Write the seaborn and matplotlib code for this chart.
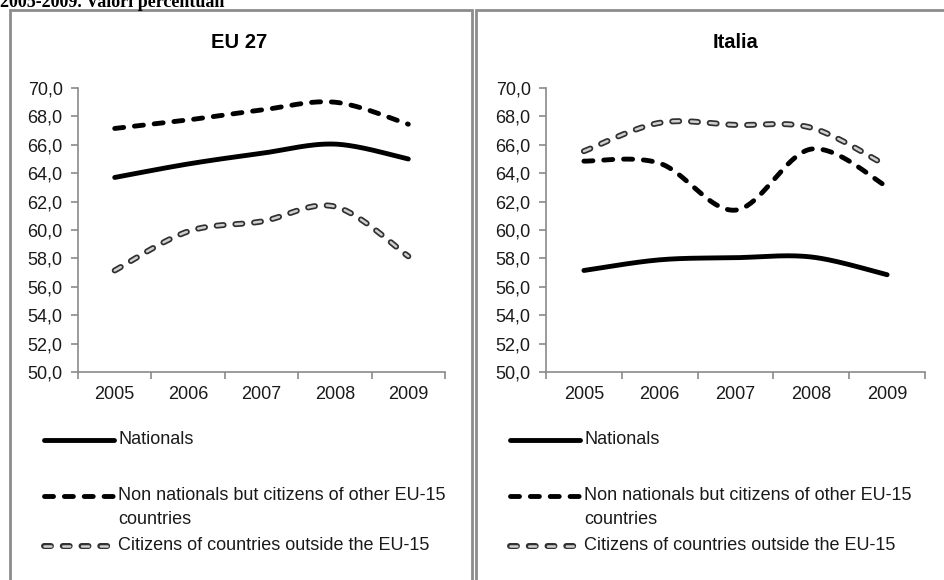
import numpy as np
import pandas as pd
import matplotlib
matplotlib.use("Agg")
import matplotlib.pyplot as plt
from matplotlib.lines import Line2D
from matplotlib.patches import Rectangle
import seaborn as sns

# ---- data -------------------------------------------------------------
YEARS = ["2005", "2006", "2007", "2008", "2009"]
SERIES = [
    "Nationals",
    "Non nationals but citizens of other EU-15\ncountries",
    "Citizens of countries outside the EU-15",
]
EU27_NATIONALS = [63.7, 64.65, 65.4, 66.05, 65.0]
EU27_OTHER_EU15 = [67.15, 67.75, 68.45, 69.0, 67.45]
EU27_OUTSIDE_EU15 = [57.15, 59.9, 60.6, 61.65, 58.15]
IT_NATIONALS = [57.15, 57.9, 58.05, 58.1, 56.85]
IT_OTHER_EU15 = [64.85, 64.7, 61.4, 65.7, 63.05]
IT_OUTSIDE_EU15 = [65.55, 67.55, 67.4, 67.2, 64.5]
PANEL_TITLES = ["EU 27", "Italia"]
Y_TICKS = [50, 52, 54, 56, 58, 60, 62, 64, 66, 68, 70]
HEADER = "2005-2009. Valori percentuali"

# ---- style ------------------------------------------------------------
sns.set_theme(style="white")
plt.rcParams["font.family"] = ["Liberation Sans", "DejaVu Sans"]
plt.rcParams["lines.scale_dashes"] = False

W, H = 944, 580
fig = plt.figure(figsize=(W / 100, H / 100), dpi=100)
fig.patch.set_facecolor("white")


def fx(px):
    return px / W


def fy(py):
    return 1 - py / H


def smooth(xs, ys, n=40):
    """Smoothed line: cubic Bezier segments passing through every point."""
    p = np.column_stack([xs, ys]).astype(float)
    ext = np.vstack([p[0], p, p[-1]])
    out = []
    t = np.linspace(0, 1, n)[:, None]
    for i in range(len(p) - 1):
        p0, p3 = ext[i + 1], ext[i + 2]
        c1 = p0 + (ext[i + 2] - ext[i]) / 6
        c2 = p3 - (ext[i + 3] - ext[i + 1]) / 6
        seg = ((1 - t) ** 3) * p0 + 3 * ((1 - t) ** 2) * t * c1 \
            + 3 * (1 - t) * t ** 2 * c2 + t ** 3 * p3
        out.append(seg if i == 0 else seg[1:])
    out = np.vstack(out)
    return out[:, 0], out[:, 1]


DASH = (0, (6.5, 7.8))
HOLLOW = (0, (5.0, 8.5))


def line_styles(kind):
    if kind == 0:
        return [dict(color="black", lw=3.5, ls="-")]
    if kind == 1:
        return [dict(color="black", lw=3.5, ls=DASH)]
    return [dict(color="#303030", lw=4.3, ls=HOLLOW),
            dict(color="#d0d0d0", lw=1.8, ls=HOLLOW)]


def draw_panel(ax, values):
    x = np.arange(len(YEARS))
    for kind, ys in enumerate(values):
        sx, sy = smooth(x, ys)
        df = pd.DataFrame({"x": sx, "y": sy})
        for st in line_styles(kind):
            n_before = len(ax.lines)
            sns.lineplot(data=df, x="x", y="y", ax=ax, sort=False,
                         estimator=None, color=st["color"], linewidth=st["lw"])
            ln = ax.lines[n_before]
            ln.set_linestyle(st["ls"])
            ln.set_dash_capstyle("round")
            ln.set_solid_capstyle("round")
    ax.set_xlim(-0.5, len(YEARS) - 0.5)
    ax.set_ylim(Y_TICKS[0], Y_TICKS[-1])
    ax.set_xticks(x)
    ax.set_xticklabels(YEARS)
    ax.set_xticks(np.arange(-0.5, len(YEARS), 1.0), minor=True)
    ax.set_yticks(Y_TICKS)
    ax.set_yticklabels([f"{v:.1f}".replace(".", ",") for v in Y_TICKS])
    ax.set_xlabel("")
    ax.set_ylabel("")
    for side in ("top", "right"):
        ax.spines[side].set_visible(False)
    for side in ("left", "bottom"):
        ax.spines[side].set_color("#8a8a8a")
        ax.spines[side].set_linewidth(1.2)
    ax.tick_params(axis="x", which="major", length=0, pad=10,
                   labelsize=13, labelcolor="#1a1a1a")
    ax.tick_params(axis="x", which="minor", length=5, width=1.2,
                   color="#8a8a8a", direction="out", bottom=True)
    ax.tick_params(axis="y", length=5, width=1.2, color="#8a8a8a",
                   direction="out", left=True, pad=6,
                   labelsize=13, labelcolor="#1a1a1a")
    ax.set_facecolor("none")


def draw_legend(box_left):
    x0, x1, xt = box_left + 34, box_left + 104, box_left + 108
    rows = [440, 496, 546]
    for kind, (label, yrow) in enumerate(zip(SERIES, rows)):
        for st in line_styles(kind):
            fig.add_artist(Line2D([fx(x0), fx(x1)], [fy(yrow), fy(yrow)],
                                  transform=fig.transFigure,
                                  color=st["color"], lw=st["lw"], ls=st["ls"],
                                  dash_capstyle="round",
                                  solid_capstyle="round"))
        for j, part in enumerate(label.split("\n")):
            fig.text(fx(xt), fy(yrow + 23 * j), part, ha="left", va="center",
                     fontsize=13, color="#1a1a1a")


# panel frames
frame_kw = dict(transform=fig.transFigure, fill=False,
                edgecolor="#8c8c8c", lw=2.0, zorder=0)
fig.add_artist(Rectangle((fx(10), fy(700)), fx(462), fy(10) - fy(700), **frame_kw))
fig.add_artist(Rectangle((fx(476), fy(700)), fx(500), fy(10) - fy(700), **frame_kw))

# report header running off the top edge
fig.text(fx(0), fy(7), HEADER, ha="left", va="baseline", fontsize=13,
         fontweight="bold", family=["Liberation Serif", "DejaVu Serif"],
         color="black")

axL = fig.add_axes([fx(78), fy(372), fx(445 - 78), fy(88) - fy(372)])
axR = fig.add_axes([fx(546), fy(372), fx(925 - 546), fy(88) - fy(372)])

draw_panel(axL, [EU27_NATIONALS, EU27_OTHER_EU15, EU27_OUTSIDE_EU15])
draw_panel(axR, [IT_NATIONALS, IT_OTHER_EU15, IT_OUTSIDE_EU15])

fig.text(fx(239), fy(43), PANEL_TITLES[0], ha="center", va="center",
         fontsize=14.5, fontweight="bold", color="black")
fig.text(fx(736), fy(43), PANEL_TITLES[1], ha="center", va="center",
         fontsize=14.5, fontweight="bold", color="black")

draw_legend(10)
draw_legend(476)

fig.savefig("out.png", dpi=100, facecolor="white")
